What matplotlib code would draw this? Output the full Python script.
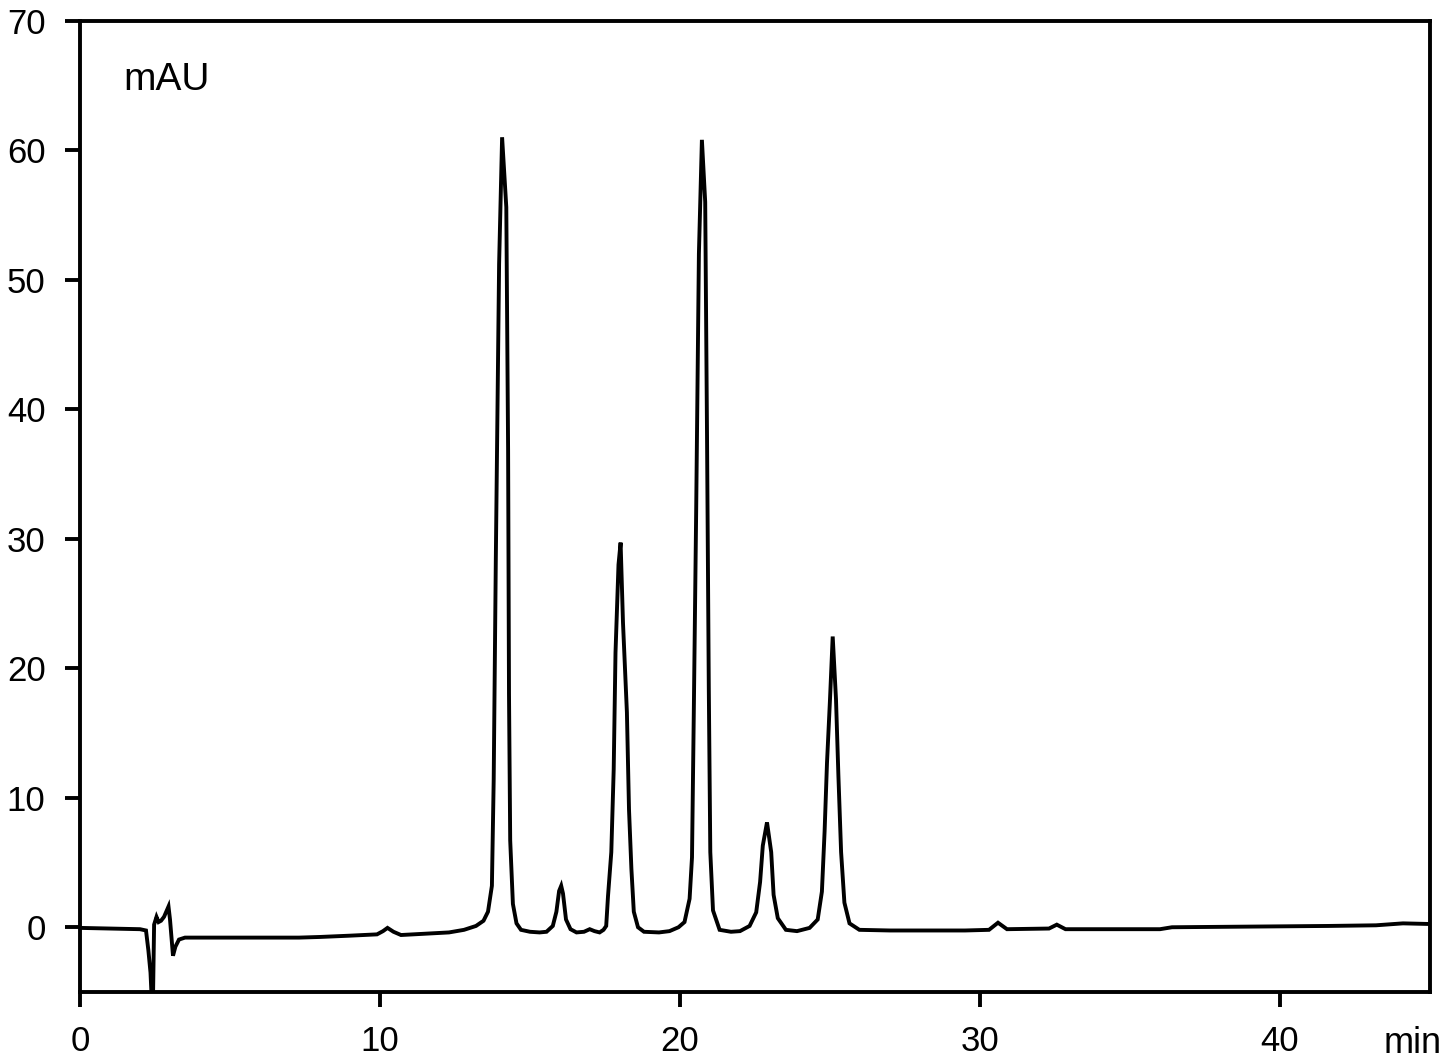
import numpy as np
import matplotlib
matplotlib.use("Agg")
import matplotlib.pyplot as plt

plt.rcParams['font.family'] = ['Liberation Sans', 'DejaVu Sans']

# ---- data (time in min, signal in mAU) ----
t_start = [0.0, 1.0, 2.0, 2.2, 2.28, 2.35, 2.40, 2.43, 2.47, 2.55, 2.62, 2.70, 2.80,
           2.95, 3.00, 3.10, 3.18, 3.30, 3.50, 4.0, 5.0, 6.0, 7.3, 8.0, 9.0, 9.9,
           10.1, 10.25, 10.45, 10.7, 11.5, 12.3, 12.8, 13.2, 13.45, 13.6]
v_start = [-0.05, -0.1, -0.15, -0.25, -1.8, -3.5, -6.0, -6.0, 0.2, 0.8, 0.4, 0.5, 0.8,
           1.6, 0.6, -2.2, -1.5, -0.95, -0.8, -0.8, -0.8, -0.8, -0.8, -0.75, -0.65, -0.55,
           -0.3, -0.05, -0.35, -0.6, -0.5, -0.4, -0.2, 0.1, 0.5, 1.2]

t_peak1 = [13.73, 13.79, 13.86, 13.97, 14.07, 14.21, 14.27, 14.30, 14.34, 14.43,
           14.55, 14.7, 15.0, 15.32, 15.55]
v_peak1 = [3.2, 11.4, 28.3, 51.2, 61.0, 55.6, 36.9, 18.0, 6.7, 1.8,
           0.3, -0.2, -0.35, -0.4, -0.35]

t_peak2 = [15.76, 15.88, 15.97, 16.04, 16.10, 16.20, 16.35, 16.55, 16.8, 16.99,
           17.15, 17.32, 17.45, 17.54]
v_peak2 = [0.1, 1.2, 2.8, 3.2, 2.6, 0.6, -0.15, -0.4, -0.35, -0.15,
           -0.3, -0.4, -0.2, 0.1]

t_peak3 = [17.60, 17.71, 17.79, 17.85, 17.95, 18.02, 18.10, 18.23, 18.30, 18.38,
           18.46, 18.60, 18.8, 19.3, 19.65]
v_peak3 = [2.4, 5.8, 12.2, 21.2, 28.0, 29.7, 23.5, 16.6, 9.1, 4.5,
           1.2, 0.0, -0.35, -0.4, -0.3]

t_peak4 = [19.95, 20.15, 20.32, 20.40, 20.46, 20.54, 20.63, 20.73, 20.84, 20.90,
           20.96, 21.01, 21.10, 21.32, 21.7, 22.0]
v_peak4 = [0.0, 0.4, 2.2, 5.4, 16.6, 32.3, 52.0, 60.8, 56.0, 38.2,
           18.4, 5.8, 1.3, -0.2, -0.35, -0.3]

t_peak5 = [22.32, 22.54, 22.67, 22.76, 22.90, 23.04, 23.12, 23.26, 23.53, 23.9, 24.32]
v_peak5 = [0.1, 1.15, 3.5, 6.3, 8.1, 5.8, 2.5, 0.7, -0.2, -0.3, -0.05]

t_peak6 = [24.59, 24.73, 24.82, 24.90, 25.00, 25.09, 25.20, 25.28, 25.37, 25.48,
           25.65, 25.98]
v_peak6 = [0.6, 2.75, 7.4, 12.7, 17.6, 22.45, 17.6, 11.7, 5.8, 1.9, 0.3, -0.2]

t_tail = [27.0, 28.0, 29.5, 30.3, 30.6, 30.9, 32.3, 32.56, 32.85, 36.0, 36.4,
          41.6, 43.2, 44.1, 45.0]
v_tail = [-0.25, -0.25, -0.25, -0.2, 0.35, -0.15, -0.1, 0.2, -0.15, -0.15, 0.0,
          0.1, 0.15, 0.3, 0.25]

x_ticks = [0, 10, 20, 30, 40]
y_ticks = [0, 10, 20, 30, 40, 50, 60, 70]

time = np.concatenate([t_start, t_peak1, t_peak2, t_peak3, t_peak4, t_peak5, t_peak6, t_tail])
signal = np.concatenate([v_start, v_peak1, v_peak2, v_peak3, v_peak4, v_peak5, v_peak6, v_tail])

# ---- figure ----
W, H, DPI = 1446, 1063, 100
fig = plt.figure(figsize=(W / DPI, H / DPI), dpi=DPI)
ax = fig.add_axes([80 / W, 1 - 992 / H, 1350 / W, (992 - 20.7) / H])

ax.plot(time, signal, color='black', lw=2.8, solid_joinstyle='miter')

ax.set_xlim(0, 45)
ax.set_ylim(-5, 70)
ax.set_xticks(x_ticks)
ax.set_yticks(y_ticks)

for s in ax.spines.values():
    s.set_linewidth(2.8)
ax.tick_params(axis='both', direction='out', length=10.8, width=2.8,
               labelsize=25, colors='black')
ax.tick_params(axis='y', pad=14)
ax.tick_params(axis='x', pad=13)

fig.text(123 / W, 1 - 90 / H, 'mAU', fontsize=28, ha='left', va='baseline')
fig.text(1442 / W, 1 - 1053 / H, 'min', fontsize=26, ha='right', va='baseline')

fig.savefig('out.png', dpi=DPI)
